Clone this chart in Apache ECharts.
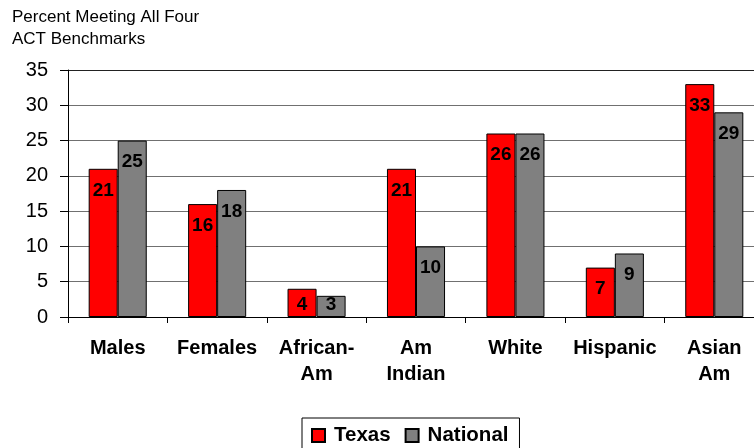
<!DOCTYPE html>
<html><head><meta charset="utf-8">
<script src="https://cdn.jsdelivr.net/npm/echarts@6/dist/echarts.min.js"></script>
<style>html,body{margin:0;padding:0;background:#fff;overflow:hidden;width:754px;height:448px}#c{width:764px;height:448px}</style>
</head><body><div id="c"></div>
<script>
const categories = ['Males', 'Females', 'African-\nAm', 'Am\nIndian', 'White', 'Hispanic', 'Asian\nAm'];
const texas = [21, 16, 4, 21, 26, 7, 33];
const national = [25, 18, 3, 10, 26, 9, 29];
const yTicks = [0, 5, 10, 15, 20, 25, 30, 35];
const FONT = '"Liberation Sans", Arial, sans-serif';
const chart = echarts.init(document.getElementById('c'));
const lbl = {show: true, position: 'insideTop', distance: 12, color: '#000', fontWeight: 'bold', fontSize: 19, fontFamily: FONT};
const withLabels = arr => arr.map(v => v < 5 ? {value: v, label: {position: 'insideBottom', distance: 3}} : v);
chart.setOption({
  animation: false,
  title: {text: 'Percent Meeting All Four\nACT Benchmarks', left: 12, top: 6, padding: 0,
    textStyle: {fontSize: 17, fontWeight: 'normal', color: '#000', fontFamily: FONT, lineHeight: 22}},
  grid: {left: 68, right: 0, top: 70, bottom: 131, containLabel: false},
  legend: {top: 418, left: 302, itemWidth: 13, itemHeight: 13, itemGap: 14,
    borderColor: '#000', borderWidth: 1, padding: [7, 11, 14, 9],
    textStyle: {fontSize: 20.5, fontWeight: 'bold', color: '#000', fontFamily: FONT, padding: [0, 0, 0, 4]},
    data: [{name: 'Texas', icon: 'rect'}, {name: 'National', icon: 'rect'}]},
  xAxis: {type: 'category', data: categories,
    axisLine: {lineStyle: {color: '#000', width: 1}},
    axisTick: {show: true, length: 6, lineStyle: {color: '#000'}},
    axisLabel: {fontSize: 20, fontWeight: 'bold', color: '#000', fontFamily: FONT, margin: 18, lineHeight: 26, interval: 0}},
  yAxis: {type: 'value', min: yTicks[0], max: yTicks[yTicks.length - 1], interval: 5,
    axisLine: {show: true, lineStyle: {color: '#000'}},
    axisTick: {show: true, length: 8, lineStyle: {color: '#000'}},
    axisLabel: {fontSize: 20, color: '#000', fontFamily: FONT, margin: 20},
    splitLine: {lineStyle: {color: ['#707070', '#707070', '#707070', '#707070', '#707070', '#707070', '#707070', '#222'], width: 1}}},
  series: [
    {name: 'Texas', type: 'bar', data: withLabels(texas), barGap: '0%', barCategoryGap: '41.6%',
      itemStyle: {color: '#ff0000', borderColor: '#000', borderWidth: 1}, label: lbl},
    {name: 'National', type: 'bar', data: withLabels(national),
      itemStyle: {color: '#808080', borderColor: '#000', borderWidth: 1}, label: lbl}
  ]
});
</script></body></html>
